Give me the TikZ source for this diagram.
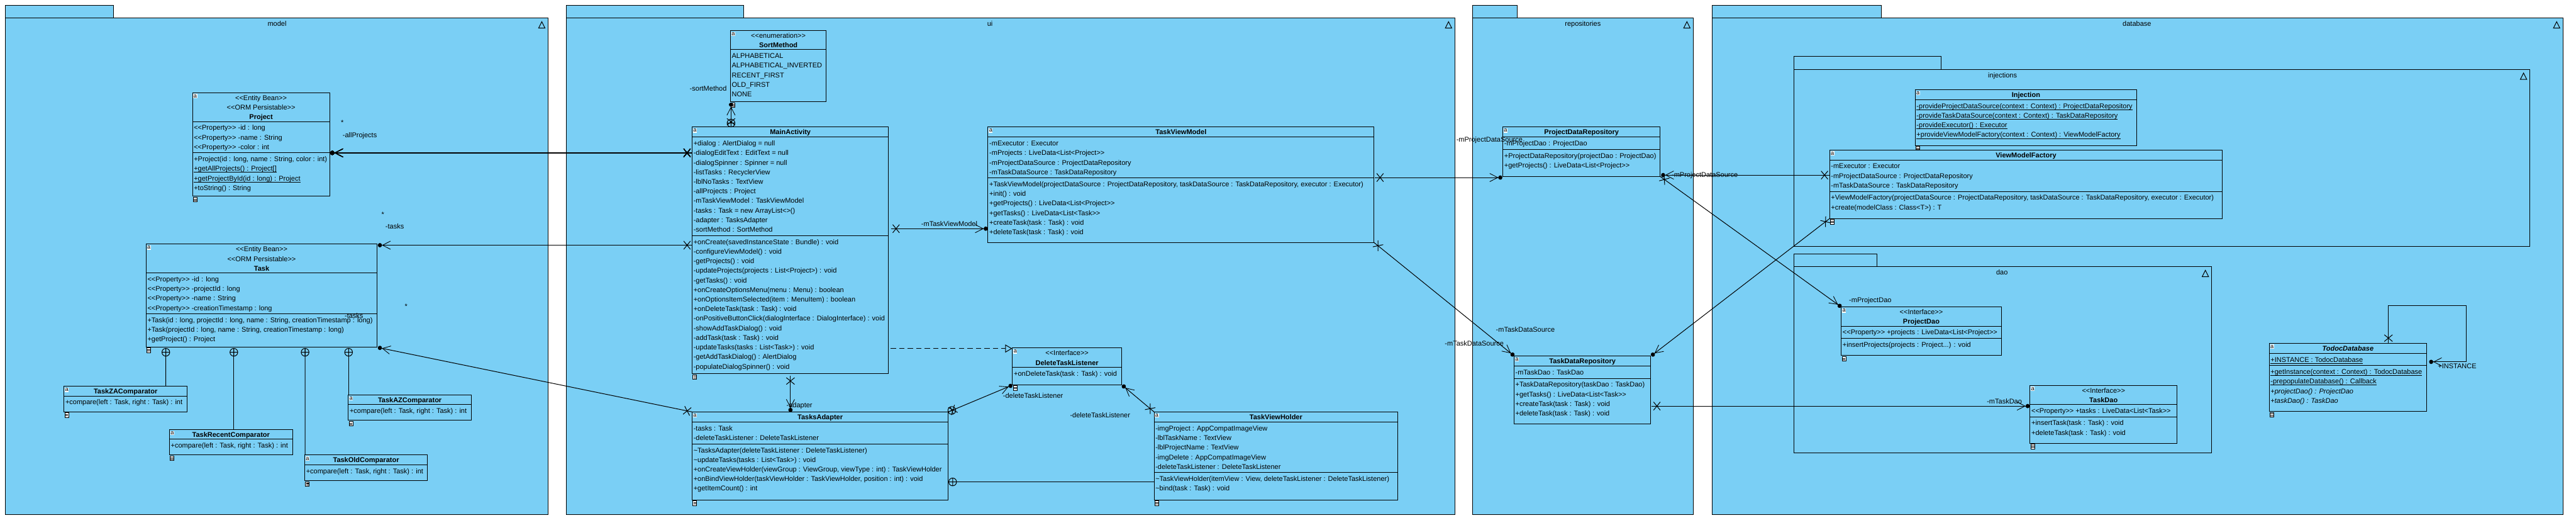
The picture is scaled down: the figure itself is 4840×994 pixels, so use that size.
\documentclass[tikz,border=0pt]{standalone}
\usepackage{fontspec}
\usepackage{xcolor}
\usepackage{tikz}
\usetikzlibrary{arrows.meta,calc,decorations.markings}
\newfontfamily\umlfont{Liberation Sans}
\definecolor{pkgblue}{RGB}{122,207,245}
\tikzstyle{pkgbox}=[draw=black, fill=pkgblue, inner sep=0pt, outer sep=0pt]
\tikzstyle{classbox}=[draw=black, fill=pkgblue, inner sep=0pt, outer sep=0pt, anchor=north west]
\tikzstyle{headtext}=[anchor=north, inner sep=0pt, align=center]
\tikzstyle{rowtext}=[anchor=north west, inner sep=0pt, align=left]
\tikzstyle{rolelabel}=[inner sep=0pt, yshift=-.4pt, execute at begin node=\strut]
\tikzstyle{tagicon}=[anchor=north west, fill=white, inner sep=0pt, minimum width=3.6pt, minimum height=4pt,
  font=\umlfont\fontsize{5.5}{5.5}\selectfont]
\tikzstyle{docicon}=[anchor=north west, draw=black, fill=white, inner sep=0pt, outer sep=0pt,
  minimum width=3.6pt, minimum height=4.4pt, line width=.5pt]
\tikzstyle{assoc}=[-{Straight Barb[length=7.5pt,width=7.7pt,line width=.5pt] Circle[length=3.8pt,width=4pt]}]
\tikzstyle{realize}=[dashed, dash pattern=on 5pt off 3pt, -{Triangle[length=6.5pt,width=7.5pt,fill=pkgblue]}]
\tikzstyle{xend}=[postaction={decorate,decoration={markings,mark=at position 4.8pt with
  {\draw[-,solid] (-6.3,-7.7)--(6.3,7.7) (-6.3,7.7)--(6.3,-7.7);}}}]
\tikzstyle{nest}=[postaction={decorate,decoration={markings,mark=at position 3.65pt with
  {\draw[-,solid] (0,0) circle (7.3) (-7.3,0)--(7.3,0) (0,-7.3)--(0,7.3);}}}]
% name, top left, width, height, first rule, second rule, head, attributes, operations
\newcommand{\umlclass}[9]{%
  \node[classbox,minimum width=#3*.5pt,minimum height=#4*.5pt] (#1) at (#2) {};
  \node[tagicon] (#1tag) at ([shift={(1,2)}]#1.north west) {a};
  \draw ([shift={(0,#5)}]#1.north west) -- ([shift={(0,#5)}]#1.north east);
  \draw ([shift={(0,#6)}]#1.north west) -- ([shift={(0,#6)}]#1.north east);
  \node[headtext] (#1head) at ([shift={(0,1)}]#1.north) {\strut#7};
  \ifx\relax#8\relax\else\node[rowtext] (#1attrs) at ([shift={(2,#5+3.1)}]#1.north west) {\strut#8};\fi
  \ifx\relax#9\relax\else\node[rowtext] (#1ops) at ([shift={(2,#6+3.1)}]#1.north west) {\strut#9};\fi
}
% name, tab top left, tab width, width, height, label x, triangle x, label
\newcommand{\umlpackage}[8]{%
  \node[pkgbox,anchor=north west,minimum width=#3*.5pt,minimum height=12pt] (#1tab) at (#2) {};
  \node[pkgbox,anchor=north west,minimum width=#4*.5pt,minimum height=#5*.5pt] (#1) at (#1tab.south west) {};
  \node[rolelabel] (#1label) at ([shift={(#6,11)}]#1.north west) {#8};
  \draw ([shift={(#7,6.7)}]#1.north west) -- ++(6,12) -- ++(-12,0) -- cycle;
}
\newcommand{\docicon}[1]{%
  \node[docicon] (#1doc) at ([shift={(1.4,1.7)}]#1.south west) {};
  \draw[line width=.6pt] ([shift={(1,3.5)}]#1doc.north west) -- +(5.4,0) ([shift={(1,6)}]#1doc.north west) -- +(5.4,0);
}
\newcommand{\prop}{<{}<Property>{}> }
% class scope members
\newcommand{\static}[1]{\setbox0=\hbox{#1}\rlap{\raisebox{-1.3pt}{\rule{\wd0}{.4pt}}}\box0}
\begin{document}
\begin{tikzpicture}[x=.5pt,y=-.5pt,line width=.6pt,font=\umlfont\fontsize{6.5}{9}\selectfont]
\useasboundingbox (0,0) rectangle (4840,994);
% packages
\umlpackage{model}{10,10}{203.6}{1020}{932.3}{510.5}{1008}{model}
\umlpackage{ui}{1064.3,10}{333.2}{1669.4}{932.3}{795.7}{1657.3}{ui}
\umlpackage{repositories}{2767.3,10}{83.2}{414.2}{932.3}{206.7}{402.2}{repositories}
\umlpackage{database}{3216.5,10}{318.5}{1598.9}{932.3}{798.5}{1587.1}{database}
\umlpackage{injections}{3370.5,106.3}{276.1}{1382.7}{332.3}{392}{1370.9}{injections}
\umlpackage{dao}{3370.5,476.7}{156.1}{784.9}{350}{390.9}{773.1}{dao}
% model
\umlclass{project}{361.7,174}{257.6}{194.3}{54.3}{113}
  {<{}<Entity Bean>{}>\\<{}<ORM Persistable>{}>\\\textbf{Project}}
  {\prop-id : long\\\prop-name : String\\\prop-color : int}
  {+Project(id : long, name : String, color : int)\\\static{+getAllProjects() : Project[]}\\
   \static{+getProjectById(id : long) : Project}\\+toString() : String}
\umlclass{task}{274.5,458.3}{434.1}{193}{54}{131}
  {<{}<Entity Bean>{}>\\<{}<ORM Persistable>{}>\\\textbf{Task}}
  {\prop-id : long\\\prop-projectId : long\\\prop-name : String\\\prop-creationTimestamp : long}
  {+Task(id : long, projectId : long, name : String, creationTimestamp : long)\\
   +Task(projectId : long, name : String, creationTimestamp : long)\\+getProject() : Project}
\umlclass{zacomp}{120.3,725.3}{231.3}{48}{18}{18}{\textbf{TaskZAComparator}}{}{+compare(left : Task, right : Task) : int}
\umlclass{recentcomp}{318.4,806.3}{231.2}{48}{18}{18}{\textbf{TaskRecentComparator}}{}{+compare(left : Task, right : Task) : int}
\umlclass{oldcomp}{572.6,854.3}{230.4}{48}{18}{18}{\textbf{TaskOldComparator}}{}{+compare(left : Task, right : Task) : int}
\umlclass{azcomp}{654.4,741.3}{231.2}{48}{18}{18}{\textbf{TaskAZComparator}}{}{+compare(left : Task, right : Task) : int}
% ui
\umlclass{sort}{1372.4,57.3}{180.1}{134}{36}{36}
  {<{}<enumeration>{}>\\\textbf{SortMethod}}
  {ALPHABETICAL\\ALPHABETICAL\_INVERTED\\RECENT\_FIRST\\OLD\_FIRST\\NONE}{}
\umlclass{main}{1300.5,238.3}{368.9}{463}{19}{204}
  {\textbf{MainActivity}}
  {+dialog : AlertDialog = null\\-dialogEditText : EditText = null\\-dialogSpinner : Spinner = null\\
   -listTasks : RecyclerView\\-lblNoTasks : TextView\\-allProjects : Project\\
   -mTaskViewModel : TaskViewModel\\-tasks : Task = new ArrayList<{}>()\\-adapter : TasksAdapter\\
   -sortMethod : SortMethod}
  {+onCreate(savedInstanceState : Bundle) : void\\-configureViewModel() : void\\-getProjects() : void\\
   -updateProjects(projects : List<Project>) : void\\-getTasks() : void\\
   +onCreateOptionsMenu(menu : Menu) : boolean\\+onOptionsItemSelected(item : MenuItem) : boolean\\
   +onDeleteTask(task : Task) : void\\-onPositiveButtonClick(dialogInterface : DialogInterface) : void\\
   -showAddTaskDialog() : void\\-addTask(task : Task) : void\\-updateTasks(tasks : List<Task>) : void\\
   -getAddTaskDialog() : AlertDialog\\-populateDialogSpinner() : void}
\umlclass{viewmodel}{1856.3,238.3}{725.3}{217}{19}{95.7}
  {\textbf{TaskViewModel}}
  {-mExecutor : Executor\\-mProjects : LiveData<List<Project>{}>\\
   -mProjectDataSource : ProjectDataRepository\\-mTaskDataSource : TaskDataRepository}
  {+TaskViewModel(projectDataSource : ProjectDataRepository, taskDataSource : TaskDataRepository, executor : Executor)\\
   +init() : void\\+getProjects() : LiveData<List<Project>{}>\\+getTasks() : LiveData<List<Task>{}>\\
   +createTask(task : Task) : void\\+deleteTask(task : Task) : void}
\umlclass{adapter}{1300.5,773.3}{481.1}{165}{19}{60}
  {\textbf{TasksAdapter}}
  {-tasks : Task\\-deleteTaskListener : DeleteTaskListener}
  {\textasciitilde TasksAdapter(deleteTaskListener : DeleteTaskListener)\\
   \textasciitilde updateTasks(tasks : List<Task>) : void\\
   +onCreateViewHolder(viewGroup : ViewGroup, viewType : int) : TaskViewHolder\\
   +onBindViewHolder(taskViewHolder : TaskViewHolder, position : int) : void\\+getItemCount() : int}
\umlclass{delete}{1902.4,653.3}{204.8}{69}{36}{36}
  {<{}<Interface>{}>\\\textbf{DeleteTaskListener}}{}{+onDeleteTask(task : Task) : void}
\umlclass{holder}{2168.4,773.3}{458}{165}{19}{114}
  {\textbf{TaskViewHolder}}
  {-imgProject : AppCompatImageView\\-lblTaskName : TextView\\-lblProjectName : TextView\\
   -imgDelete : AppCompatImageView\\-deleteTaskListener : DeleteTaskListener}
  {\textasciitilde TaskViewHolder(itemView : View, deleteTaskListener : DeleteTaskListener)\\
   \textasciitilde bind(task : Task) : void}
% repositories
\umlclass{projrepo}{2823.7,238.3}{295.6}{93}{19}{42}
  {\textbf{ProjectDataRepository}}{-mProjectDao : ProjectDao}
  {+ProjectDataRepository(projectDao : ProjectDao)\\+getProjects() : LiveData<List<Project>{}>}
\umlclass{taskrepo}{2844.7,668}{256.9}{128.3}{19.3}{42.3}
  {\textbf{TaskDataRepository}}{-mTaskDao : TaskDao}
  {+TaskDataRepository(taskDao : TaskDao)\\+getTasks() : LiveData<List<Task>{}>\\
   +createTask(task : Task) : void\\+deleteTask(task : Task) : void}
% database
\umlclass{injection}{3598.4,168.3}{416.1}{105}{19}{19}
  {\textbf{Injection}}{}
  {\static{-provideProjectDataSource(context : Context) : ProjectDataRepository}\\
   \static{-provideTaskDataSource(context : Context) : TaskDataRepository}\\
   \static{-provideExecutor() : Executor}\\
   \static{+provideViewModelFactory(context : Context) : ViewModelFactory}}
\docicon{injection}
\umlclass{factory}{3437.6,281.3}{738.1}{129}{19}{78}
  {\textbf{ViewModelFactory}}
  {-mExecutor : Executor\\-mProjectDataSource : ProjectDataRepository\\-mTaskDataSource : TaskDataRepository}
  {+ViewModelFactory(projectDataSource : ProjectDataRepository, taskDataSource : TaskDataRepository, executor : Executor)\\
   +create(modelClass : Class<T>) : T}
\umlclass{projdao}{3459.5,576.3}{300.7}{91}{36}{59}
  {<{}<Interface>{}>\\\textbf{ProjectDao}}{\prop+projects : LiveData<List<Project>{}>}
  {+insertProjects(projects : Project...) : void}
\umlclass{taskdao}{3814.2,723.3}{276.1}{109}{36}{59}
  {<{}<Interface>{}>\\\textbf{TaskDao}}{\prop+tasks : LiveData<List<Task>{}>}
  {+insertTask(task : Task) : void\\+deleteTask(task : Task) : void}
\umlclass{todoc}{4263.6,644.3}{295.7}{128}{19}{42}
  {\textbf{\textit{TodocDatabase}}}{\static{+INSTANCE : TodocDatabase}}
  {\static{+getInstance(context : Context) : TodocDatabase}\\\static{-prepopulateDatabase() : Callback}\\
   \textit{+projectDao() : ProjectDao}\\\textit{+taskDao() : TaskDao}}
\foreach \cls in {project,task,zacomp,recentcomp,oldcomp,azcomp,sort,main,adapter,delete,holder,factory,projdao,taskdao,todoc}
  \docicon{\cls}
% associations
\draw[assoc,xend] ([shift={(0,48.7)}]main.north west) -- ([shift={(1.3,113)}]project.north east);
\draw[assoc,xend] ([shift={(0,222)}]main.north west) -- ([shift={(1.4,2)}]task.north east);
\draw[assoc,xend] (adapter.north west) -- ([shift={(1.4,1)}]task.south east);
\draw[assoc,xend,nest] ([shift={(73,0)}]main.north west) -- ([shift={(1.1,1.4)}]sort.south west);
\draw[assoc,xend] ([shift={(4.6,191)}]main.north east) -- ([shift={(-.5,191)}]viewmodel.north west);
\draw[assoc,xend] ([shift={(184.7,4.4)}]main.south west) -- ([shift={(184.7,0)}]adapter.north west);
\draw[realize] ([shift={(4,416)}]main.north east) -- ([shift={(-.6,1)}]delete.north west);
\draw[assoc,xend,nest] (adapter.north east) -- ([shift={(-.4,.7)}]delete.south west);
\draw[nest] ([shift={(1,131.4)}]adapter.north east) -- ([shift={(0,131.4)}]holder.north west);
\draw[assoc,xend] (holder.north west) -- ([shift={(1.3,.7)}]delete.south east);
\draw[assoc,xend] ([shift={(1.8,95)}]viewmodel.north east) -- ([shift={(-1,95)}]projrepo.north west);
\draw[assoc,xend] (viewmodel.south east) -- (taskrepo.north west);
\draw[assoc,xend] ([shift={(0,47.4)}]factory.north west) -- ([shift={(1.7,90.4)}]projrepo.north east);
\draw[assoc,xend] (factory.south west) -- ([shift={(.9,0)}]taskrepo.north east);
\draw[assoc,xend] (projrepo.south east) -- (projdao.north west);
\draw[assoc,xend] ([shift={(1.9,94.3)}]taskrepo.north east) -- ([shift={(-.7,39)}]taskdao.north west);
\coordinate (loopcorner) at (4633.2,573.3);
\draw[assoc,xend] ([shift={(223.9,0)}]todoc.north west) |- (loopcorner) |- ([shift={(4.7,35)}]todoc.north east);
% nested comparators
\draw[nest] ([shift={(37.1,2.7)}]task.south west) -- ([shift={(191.3,0)}]zacomp.north west);
\draw[nest] ([shift={(164.9,2.7)}]task.south west) -- ([shift={(121,0)}]recentcomp.north west);
\draw[nest] ([shift={(298.7,2.7)}]task.south west) -- ([shift={(.6,0)}]oldcomp.north west);
\draw[nest] ([shift={(380.5,2.7)}]task.south west) -- ([shift={(.6,0)}]azcomp.north west);
% role names
\node[rolelabel] (projectsstar) at (643,230) {*};
\node[rolelabel] (projectsrole) at (676,254) {-allProjects};
\node[rolelabel] (tasksstar) at (719.3,403) {*};
\node[rolelabel] (tasksrole) at (741.6,425) {-tasks};
\node[rolelabel] (adaptstar) at (763,575) {*};
\node[rolelabel] (adaptrole) at (665,593) {-tasks};
\node[rolelabel] (sortrole) at (1330.6,166.7) {-sortMethod};
\node[rolelabel] (vmrole) at (1783.7,420.7) {-mTaskViewModel};
\node[rolelabel] (adapterrole) at (1502,760.7) {-adapter};
\node[rolelabel] (listenerrole) at (1941,743) {-deleteTaskListener};
\node[rolelabel] (holderrole) at (2067,779.7) {-deleteTaskListener};
\node[rolelabel] (prepoa) at (2798.5,262) {-mProjectDataSource};
\node[rolelabel] (prepob) at (3203,328.7) {-mProjectDataSource};
\node[rolelabel] (trepoa) at (2770,644.7) {-mTaskDataSource};
\node[rolelabel] (trepob) at (2866,618.7) {-mTaskDataSource};
\node[rolelabel] (pdaorole) at (3514,563) {-mProjectDao};
\node[rolelabel] (tdaorole) at (3766,753.7) {-mTaskDao};
\node[rolelabel] (instrole) at (4616.6,687.3) {+INSTANCE};
\end{tikzpicture}
\end{document}
